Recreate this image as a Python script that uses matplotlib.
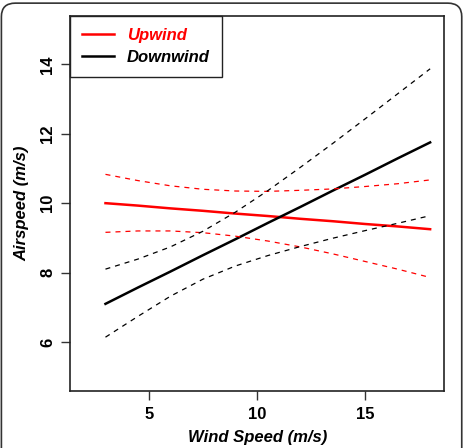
import numpy as np
import matplotlib
matplotlib.use('Agg')
import matplotlib.pyplot as plt
from matplotlib.patches import FancyBboxPatch

plt.rcParams['font.family'] = ['Liberation Sans', 'DejaVu Sans']

# values
wind_speed = [3, 4.5, 6, 7.5, 9, 10.5, 12, 13.5, 15, 16.5, 18]

upwind_fit = [10.0, 9.93, 9.85, 9.78, 9.70, 9.63, 9.55, 9.48, 9.40, 9.33, 9.25]
upwind_upper = [10.83, 10.65, 10.50, 10.40, 10.35, 10.34, 10.37, 10.41, 10.48, 10.56, 10.67]
upwind_lower = [9.16, 9.20, 9.20, 9.15, 9.05, 8.91, 8.74, 8.54, 8.32, 8.10, 7.86]

downwind_fit = [7.10, 7.57, 8.03, 8.50, 8.96, 9.43, 9.89, 10.36, 10.82, 11.29, 11.75]
downwind_upper = [8.10, 8.39, 8.74, 9.19, 9.74, 10.36, 11.03, 11.72, 12.43, 13.15, 13.87]
downwind_lower = [6.14, 6.74, 7.32, 7.81, 8.19, 8.49, 8.75, 8.99, 9.21, 9.42, 9.64]

x_ticks = [5, 10, 15]
y_ticks = [6, 8, 10, 12, 14]

fig = plt.figure(figsize=(4.65, 4.48), dpi=100)
ax = fig.add_axes([0.1505, 0.128, 0.8043, 0.837])

ax.plot(wind_speed, upwind_fit, color='#ff0000', lw=1.8, label='Upwind')
ax.plot(wind_speed, downwind_fit, color='black', lw=1.8, label='Downwind')
for ys, c in [(upwind_upper, '#ff0000'), (upwind_lower, '#ff0000'),
              (downwind_upper, 'black'), (downwind_lower, 'black')]:
    ax.plot(wind_speed, ys, color=c, lw=0.9, dashes=(4, 4))

ax.set_xlim(1.36, 18.64)
ax.set_ylim(4.6, 15.4)
ax.set_xticks(x_ticks)
ax.set_yticks(y_ticks)
ax.tick_params(direction='out', length=6.5, width=1, colors='#333333', labelcolor='black')
ax.tick_params(axis='x', pad=5.5)
ax.tick_params(axis='y', pad=4, labelrotation=90)
for lab in ax.get_xticklabels() + ax.get_yticklabels():
    lab.set_fontsize(12)
    lab.set_fontweight('bold')
for lab in ax.get_yticklabels():
    lab.set_va('center')
for sp in ax.spines.values():
    sp.set_linewidth(1.2)
    sp.set_color('#222222')

fig.text(0.553, 0.024, 'Wind Speed (m/s)', ha='center', va='center',
         fontsize=12, fontweight='bold', fontstyle='italic')
fig.text(0.047, 0.547, 'Airspeed (m/s)', ha='center', va='center', rotation=90,
         fontsize=12, fontweight='bold', fontstyle='italic')

leg = ax.legend(loc='upper left', borderaxespad=0, fancybox=False,
                edgecolor='#222222', framealpha=1, handlelength=1.9,
                handletextpad=0.75, borderpad=0.75, labelspacing=0.4,
                prop={'size': 12, 'weight': 'bold', 'style': 'italic'})
leg.get_frame().set_linewidth(1.0)
leg.get_texts()[0].set_color('#ff0000')

# rounded outer border
border = FancyBboxPatch((0.003, -0.05), 0.99, 1.043, boxstyle='round,pad=0,rounding_size=0.03',
                        transform=fig.transFigure, fill=False, edgecolor='#333333', lw=1.2)
fig.patches.append(border)

fig.savefig('out.png', dpi=100)
